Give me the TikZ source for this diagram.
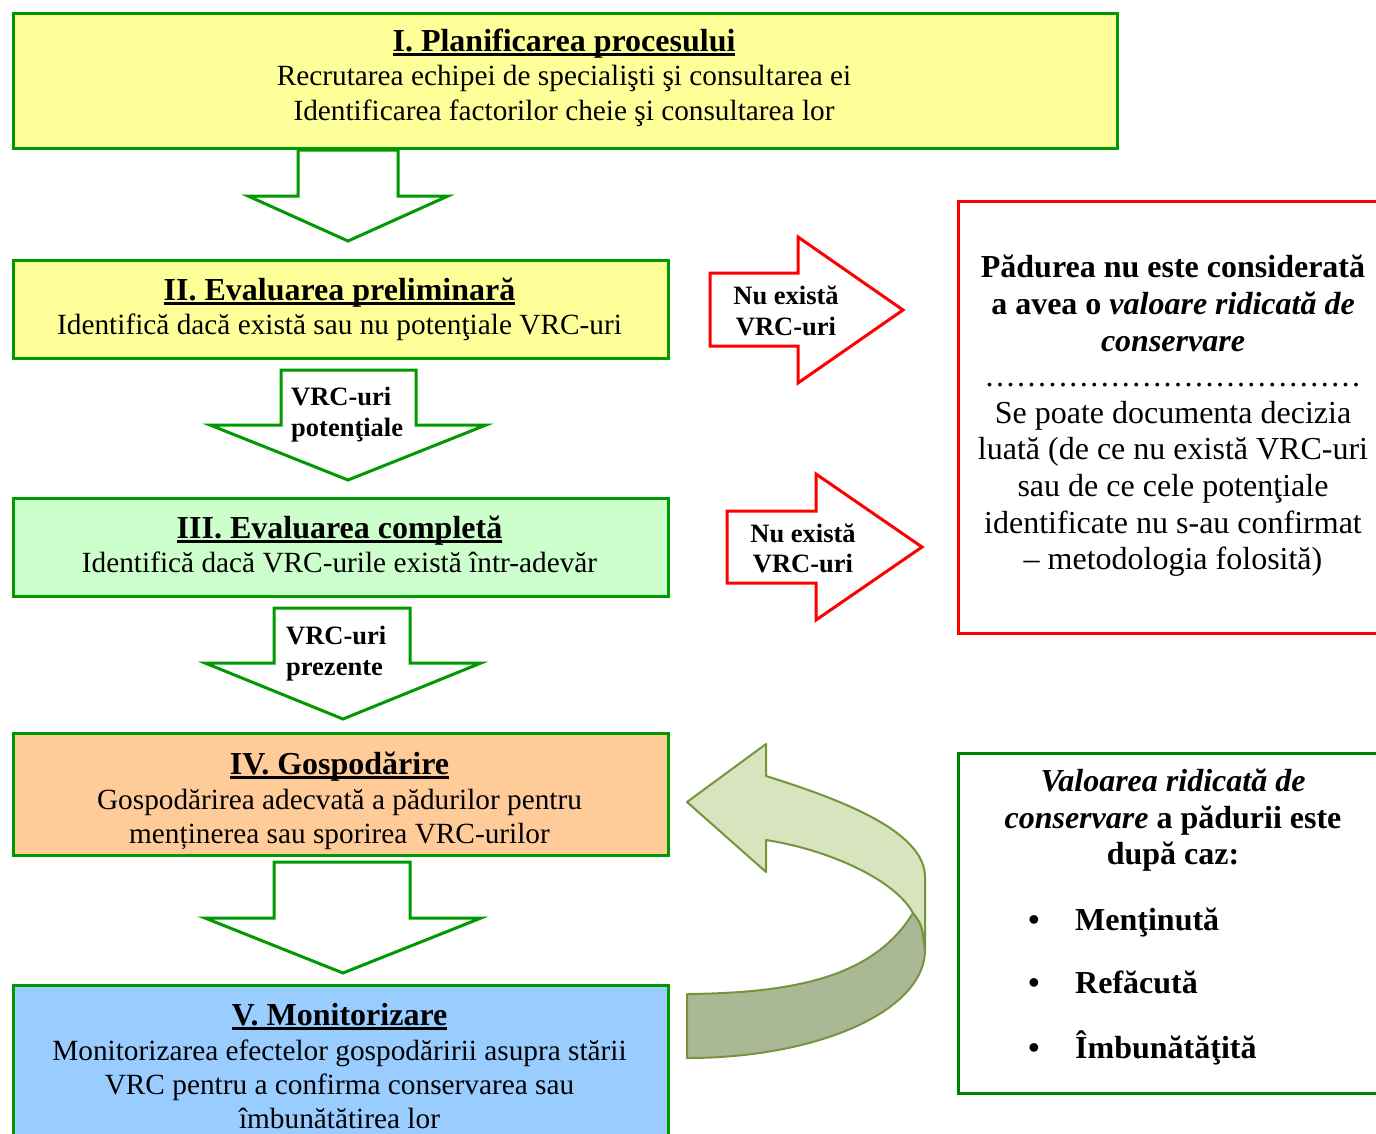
\documentclass[tikz,border=0pt]{standalone}
\usepackage{fontspec}
\setmainfont{Liberation Serif}
\definecolor{bgreen}{RGB}{0,153,0}
\definecolor{rgreen}{RGB}{0,130,0}
\definecolor{fyellow}{RGB}{255,255,153}
\definecolor{fgreen}{RGB}{204,255,204}
\definecolor{forange}{RGB}{255,204,153}
\definecolor{fblue}{RGB}{153,204,255}
\definecolor{olivel}{RGB}{119,147,60}
\definecolor{lightol}{RGB}{215,228,189}
\definecolor{darkol}{RGB}{171,184,150}
\newcommand\ulx[1]{\setbox0=\hbox{#1}\rlap{\rule[-4.5pt]{\wd0}{2.5pt}}\box0}
\newcommand\dotrow[1]{\hbox to #1{\leaders\hbox to 10.47pt{\hss.\hss}\hfill}}
\begin{document}
\begin{tikzpicture}[x=1pt,y=-1pt,
  box/.style={draw=bgreen, line width=3pt, anchor=north west, inner sep=0pt},
  garrow/.style={draw=bgreen, fill=white, line width=3pt, line join=miter},
  rarrow/.style={draw=red, fill=white, line width=3pt, line join=miter},
  ln/.style={anchor=base, inner sep=0pt, font=\fontsize{29.3}{35}\selectfont},
  ttl/.style={anchor=base, inner sep=0pt, font=\fontsize{32}{38}\selectfont\bfseries},
  lab/.style={anchor=base west, inner sep=0pt, font=\fontsize{26.5}{30}\selectfont\bfseries},
  clab/.style={anchor=base, inner sep=0pt, font=\fontsize{26.5}{30}\selectfont\bfseries},
  rl/.style={anchor=base, inner sep=0pt, font=\fontsize{32}{37}\selectfont},
  rb/.style={anchor=base, inner sep=0pt, font=\fontsize{32}{37}\selectfont\bfseries},
  bl/.style={anchor=base west, inner sep=0pt, font=\fontsize{32}{37}\selectfont\bfseries},
  ribbon/.style={draw=olivel, line width=2pt, line join=round}]
\clip (0,0) rectangle (1376,1133);
\fill[white] (0,0) rectangle (1376,1133);

% boxes
\node[box, fill=fyellow, minimum width=1104pt, minimum height=135pt] (p1) at (12,12) {};
\node[box, fill=fyellow, minimum width=655pt, minimum height=98pt] (p2) at (12,259) {};
\node[box, fill=fgreen, minimum width=655pt, minimum height=98pt] (p3) at (12,497) {};
\node[box, fill=forange, minimum width=655pt, minimum height=122pt] (p4) at (12,732) {};
\node[box, fill=fblue, minimum width=655pt, minimum height=161pt] (p5) at (12,984) {};
\node[box, draw=red, fill=white, minimum width=433pt, minimum height=432pt] (nr) at (957,200) {};
\node[box, draw=rgreen, fill=white, minimum width=433pt, minimum height=340pt] (vr) at (957,752) {};

% green block arrows
\draw[garrow] (298,150) -- (398,150) -- (398,196) -- (448,196) -- (348,241) -- (248,196) -- (298,196) -- cycle;
\draw[garrow] (281,370) -- (416,370) -- (416,425) -- (486,425) -- (348,480) -- (210,425) -- (281,425) -- cycle;
\draw[garrow] (274,608) -- (410,608) -- (410,663) -- (481,663) -- (343,719) -- (205,663) -- (274,663) -- cycle;
\draw[garrow] (274,862) -- (410,862) -- (410,918) -- (481,918) -- (343,973) -- (205,918) -- (274,918) -- cycle;

% red block arrows
\draw[rarrow] (710,273) -- (798,273) -- (798,237) -- (903,310) -- (798,383) -- (798,346) -- (710,346) -- cycle;
\draw[rarrow] (727,511) -- (816,511) -- (816,474) -- (922,547) -- (816,620) -- (816,583) -- (727,583) -- cycle;

% curved ribbon arrow
\draw[ribbon, fill=darkol] (687,994) .. controls (800,993) and (875,975) .. (913,913)
  .. controls (922,925) .. (925,950)
  .. controls (925,1010) and (820,1058) .. (687,1058) -- cycle;
\draw[ribbon, fill=lightol] (687,802) -- (766,744) -- (766,776)
  .. controls (836,798) and (925,830) .. (925,877) -- (925,950)
  .. controls (922,925) .. (913,913)
  .. controls (895,880) and (830,850) .. (766,840) -- (766,872) -- cycle;

% box I
\node[ttl] (t1) at (564,51) {\ulx{I. Planificarea procesului}};
\node[ln] (t1a) at (564,85) {Recrutarea echipei de specialişti şi consultarea ei};
\node[ln] (t1b) at (564,120) {Identificarea factorilor cheie şi consultarea lor};
% box II
\node[ttl] (t2) at (339.5,300) {\ulx{II. Evaluarea preliminară}};
\node[ln] (t2a) at (339.5,334) {Identifică dacă există sau nu potenţiale VRC-uri};
% box III
\node[ttl] (t3) at (339.5,538) {\ulx{III. Evaluarea completă}};
\node[ln] (t3a) at (339.5,572) {Identifică dacă VRC-urile există într-adevăr};
% box IV
\begin{scope}
\clip (12,732) rectangle (667,849);
\node[ttl] (t4) at (339.5,774) {\ulx{IV. Gospodărire}};
\node[ln] (t4a) at (339.5,809) {Gospodărirea adecvată a pădurilor pentru};
\node[ln] (t4b) at (339.5,843) {menținerea sau sporirea VRC-urilor};
\end{scope}
% box V
\node[ttl] (t5) at (339.5,1025) {\ulx{V. Monitorizare}};
\node[ln] (t5a) at (339.5,1060) {Monitorizarea efectelor gospodăririi asupra stării};
\node[ln] (t5b) at (339.5,1094) {VRC pentru a confirma conservarea sau};
\node[ln] (t5c) at (339.5,1128) {îmbunătătirea lor};

% arrow labels
\node[lab] (g2a) at (291,405) {VRC-uri};
\node[lab] (g2b) at (291,436) {potenţiale};
\node[lab] (g3a) at (286,644) {VRC-uri};
\node[lab] (g3b) at (286,675) {prezente};
\node[clab] (r1a) at (786,304) {Nu există};
\node[clab] (r1b) at (786,335) {VRC-uri};
\node[clab] (r2a) at (803,542) {Nu există};
\node[clab] (r2b) at (803,572) {VRC-uri};

% red box text
\node[rb] (n1) at (1173,277) {Pădurea nu este considerată};
\node[rb] (n2) at (1173,314) {a avea o \textit{valoare ridicată de}};
\node[rb] (n3) at (1173,351) {\textit{conservare}};
\node[rl] (n4) at (1173,386) {\dotrow{377pt}};
\node[rl] (n5) at (1173,423) {Se poate documenta decizia};
\node[rl] (n6) at (1173,459) {luată (de ce nu există VRC-uri};
\node[rl] (n7) at (1173,496) {sau de ce cele potenţiale};
\node[rl] (n8) at (1173,533) {identificate nu s-au confirmat};
\node[rl] (n9) at (1173,569) {– metodologia folosită)};

% right green box text
\node[rb] (v1) at (1173,791) {\textit{Valoarea ridicată de}};
\node[rb] (v2) at (1173,828) {\textit{conservare} a pădurii este};
\node[rb] (v3) at (1173,864) {după caz:};
\node[rb] (b1) at (1034,930) {•};
\node[bl] (v4) at (1075,930) {Menţinută};
\node[rb] (b2) at (1034,993) {•};
\node[bl] (v5) at (1075,993) {Refăcută};
\node[rb] (b3) at (1034,1058) {•};
\node[bl] (v6) at (1075,1058) {Îmbunătăţită};
\end{tikzpicture}
\end{document}
